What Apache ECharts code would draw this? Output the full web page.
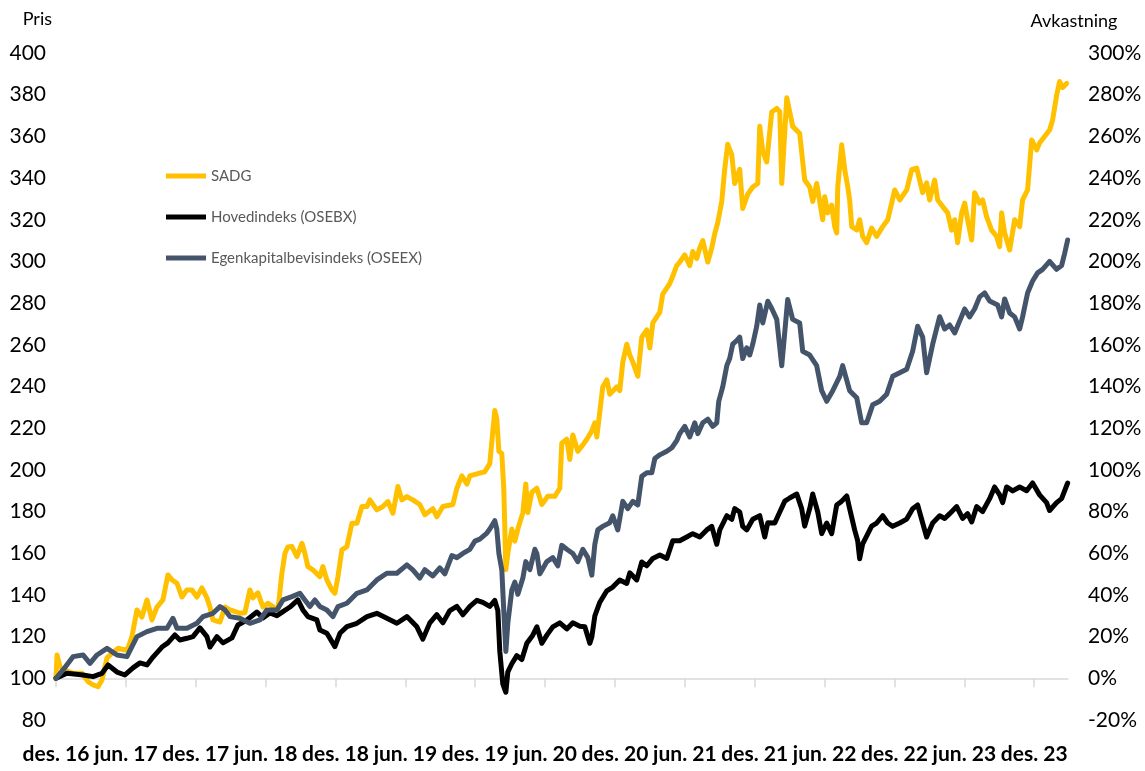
<!DOCTYPE html>
<html>
<head>
<meta charset="utf-8">
<script src="https://cdn.jsdelivr.net/npm/echarts@6/dist/echarts.min.js"></script>
<style>
  html, body { margin: 0; padding: 0; background: #fff; }
  #chart { width: 1145px; height: 771px; }
</style>
</head>
<body>
<div id="chart"></div>
<script>
// Time runs in months counted from end of December 2016.
const tickMonths = [0, 6, 12, 18, 24, 30, 36, 42, 48, 54, 60, 66, 72, 78, 84];
const tickLabels = ['des. 16', 'jun. 17', 'des. 17', 'jun. 18', 'des. 18', 'jun. 19', 'des. 19',
  'jun. 20', 'des. 20', 'jun. 21', 'des. 21', 'jun. 22', 'des. 22', 'jun. 23', 'des. 23'];

const seriesNames = ['SADG', 'Hovedindeks (OSEBX)', 'Egenkapitalbevisindeks (OSEEX)'];

// [month, indexed price] — all series rebased to 100 at the start
const sadg = [
[0,100],[0.09,111.2],[0.34,105.6],[0.77,104],[1.46,102.4],[2.23,102.4],[2.75,98.4],[3.18,96.8],[3.61,96],[3.95,99.2],
[4.38,109.8],[4.81,112],[5.32,114.4],[5.92,113.6],[6.18,114.4],[6.52,120],[6.95,132.8],[7.38,129.4],[7.81,137.6],[8.24,128],
[8.67,134.2],[9.18,137.6],[9.61,149.6],[9.96,147.2],[10.39,145.6],[10.82,139],[11.24,142.4],[11.67,142.4],[12.10,139],[12.53,143.4],
[12.96,138.6],[13.22,134.2],[13.48,128],[14.08,127],[14.51,134.2],[14.94,132.8],[15.54,131.8],[15.79,131.2],[16.22,131.5],[16.65,142.4],
[16.91,138.6],[17.34,141],[17.77,134.2],[18.20,136],[18.63,134.4],[19.06,132.8],[19.40,150.5],[19.66,160],[19.91,163],[20.26,163.2],
[20.69,158.4],[21.12,164.8],[21.37,160],[21.63,153.6],[22.06,152],[22.66,148.8],[22.92,153.6],[23.26,147.2],[23.69,142.4],[23.95,140.8],
[24.21,148.8],[24.55,161.6],[24.98,163.2],[25.41,174.4],[25.84,174.4],[26.27,182.4],[26.70,182.4],[26.95,185.6],[27.55,180.8],[28.07,182.4],
[28.50,184.8],[28.93,179.2],[29.36,192],[29.70,185.6],[30.13,187.2],[30.64,185.6],[31.24,183.4],[31.67,178.5],[32.36,181.4],[32.70,177.5],
[33.22,182.4],[34.08,183.4],[34.42,191.2],[34.85,197.1],[35.28,193.2],[35.54,197.1],[36.14,198.1],[36.82,199.1],[37.25,203],[37.51,218.7],
[37.68,228.5],[37.85,224.5],[38.03,208.9],[38.28,207.9],[38.45,191.2],[38.63,152.1],[38.80,159.9],[39.14,171.6],[39.40,165.8],[39.66,171.6],
[40.09,179.5],[40.34,193.2],[40.52,179.5],[40.86,189.3],[41.29,191.2],[41.72,183.4],[42.23,187.3],[42.83,187.3],[43.26,191.2],[43.43,212.8],
[43.86,214.7],[44.12,205],[44.38,216.7],[44.81,208.9],[45.24,212],[45.58,214.7],[46.01,218.7],[46.27,222.6],[46.44,215.8],[46.95,239.8],
[47.30,243.2],[47.55,236.3],[48.15,239.8],[48.41,238],[48.67,251.7],[49.01,260.3],[49.27,255.1],[49.53,251.7],[49.96,244.9],[50.30,263.7],
[50.73,267.1],[50.99,258.5],[51.25,270.5],[51.85,275.7],[52.10,284.3],[52.70,289.4],[52.96,292.9],[53.30,298],[53.56,299.7],[53.99,303.1],
[54.42,298],[54.68,304.8],[55.02,301.4],[55.28,306.5],[55.54,310],[55.97,299.7],[56.31,306.5],[56.57,313.4],[56.82,318.5],[57.17,328.8],
[57.42,344.2],[57.68,356.2],[58.03,351.1],[58.28,337.4],[58.71,344.2],[58.97,325.4],[59.40,332.3],[59.83,335.7],[60.26,337.4],[60.43,364.8],
[60.69,352.8],[61.03,347.7],[61.46,371.7],[61.89,373.4],[62.15,371.8],[62.32,337.4],[62.75,378.5],[63.26,364.8],[63.86,361.4],[64.29,339.1],
[64.72,335.7],[64.98,328.8],[65.32,337.4],[65.84,320],[66.01,331],[66.27,323.3],[66.61,327],[66.87,316.7],[67.04,313.7],[67.13,336],
[67.47,356],[67.73,344],[67.98,336],[68.15,329.5],[68.33,316.7],[68.76,315.1],[69.01,320],[69.27,312],[69.61,309],[70.04,316],
[70.47,312],[70.99,316.7],[71.42,320],[71.76,328],[72.02,334.3],[72.45,329.5],[73.05,334.3],[73.48,344],[73.91,344.8],[74.16,339],
[74.42,333],[74.76,337.7],[75.02,329.5],[75.45,339],[75.71,329.5],[76.14,326.3],[76.57,323.3],[76.91,315],[77.17,320],[77.42,309],
[77.77,323.3],[78.03,328],[78.28,320],[78.63,310.3],[78.88,333],[79.31,328],[79.57,329.5],[79.91,321.5],[80.34,315],[80.77,312],
[81.03,307.1],[81.20,323.3],[81.46,313.7],[81.89,305.5],[82.32,320],[82.75,316.7],[83.00,329.5],[83.43,334.3],[83.78,358.3],[84.21,353.5],
[84.46,356.8],[84.89,359.9],[85.32,363.1],[85.58,367.9],[85.92,379.6],[86.18,386.3],[86.44,383.4],[86.78,385.4]
];

const osebx = [
[0,100],[0.94,102.4],[2.32,101.6],[3.18,100.8],[3.95,102.4],[4.47,106.4],[5.24,103],[5.92,101.6],[6.61,105],[7.21,107.4],
[7.81,106.4],[8.33,110.2],[9.10,115],[9.61,117],[10.21,120.8],[10.64,118.4],[11.24,119.2],[11.76,120],[12.36,124.2],[12.96,120],
[13.22,115],[13.82,120],[14.34,117],[15.11,119.4],[15.62,125.6],[16.39,128],[17.25,131.8],[17.77,129],[18.37,131.4],[18.97,130],
[19.49,132],[20.09,134.2],[20.77,137.6],[21.20,132.8],[21.63,129.6],[22.40,128],[22.66,123.2],[23.26,121.6],[23.95,115.2],[24.38,121.6],
[24.98,124.8],[25.84,126.4],[26.70,129.6],[27.55,131.2],[28.41,128.8],[29.27,126.4],[30.13,129.6],[30.99,124.7],[31.50,118.8],[32.10,126.6],
[32.70,130.5],[33.22,126.6],[33.82,132.5],[34.42,134.5],[34.94,130.5],[35.54,134.5],[36.14,137.4],[36.65,136.4],[37.25,134.5],[37.68,137.4],
[37.94,132.5],[38.11,112.9],[38.37,97.2],[38.63,93.3],[38.80,103.1],[39.14,107],[39.57,110.9],[40.00,109],[40.43,116.8],[40.94,120.7],
[41.29,124.7],[41.72,116.8],[42.15,120.7],[42.66,124.7],[43.26,126.6],[43.86,123.7],[44.38,126.6],[44.98,125],[45.41,124.7],[45.84,116.8],
[46.01,119.8],[46.27,130],[46.70,136.5],[47.30,142],[47.81,143.8],[48.41,147.2],[49.01,145.5],[49.27,150.6],[49.87,147.2],[50.30,155.8],
[50.73,154],[51.25,157.5],[51.85,159.2],[52.45,157.5],[52.96,166],[53.56,166],[54.16,167.8],[54.68,169.4],[55.28,167.8],[55.88,171.2],
[56.31,172.9],[56.74,164.3],[57.00,171.2],[57.60,178],[58.03,176.3],[58.28,181.4],[58.71,179.8],[58.97,172.9],[59.31,171.2],[59.83,176.3],
[60.43,178],[60.86,167.8],[61.12,174.6],[61.72,174.5],[62.15,179.8],[62.58,185],[63.00,186.5],[63.61,188.4],[64.03,181.4],[64.29,173],
[64.72,181.4],[64.98,188.4],[65.41,179.8],[65.75,169.4],[66.18,174.5],[66.61,169.4],[67.04,183.2],[67.47,185],[67.90,187.5],[68.15,181.4],
[68.58,171.2],[68.84,166],[69.01,157.4],[69.27,164.5],[70.04,173],[70.47,174.5],[70.99,178],[71.42,174.5],[71.85,172.9],[72.45,174.5],
[73.05,176.4],[73.56,181.4],[73.99,183.2],[74.42,174.5],[74.76,167.8],[75.28,174.5],[75.88,178],[76.31,176.7],[76.74,179],[77.34,182.4],
[77.85,176.7],[78.28,179],[78.63,175],[79.06,182.4],[79.57,180],[80.17,186.2],[80.60,191.8],[81.03,188],[81.29,184.3],[81.63,191.8],
[82.15,189.9],[82.75,191.8],[83.35,190],[83.86,193.7],[84.46,188],[85.06,184.3],[85.32,180.5],[85.92,184.3],[86.35,186.2],[86.87,193.7]
];

const oseex = [
[0,100],[0.60,104],[1.46,110.4],[2.32,111.2],[2.92,107.2],[3.52,111.2],[4.38,114.4],[5.24,111.2],[6.09,110.4],[6.95,120],
[7.81,122.4],[8.67,124],[9.53,124],[10.04,128.8],[10.39,124],[11.24,124],[12.10,126.4],[12.62,129.6],[13.48,131.2],[14.08,134.4],
[14.51,132.8],[14.94,129.6],[15.79,128.8],[16.65,126.4],[17.51,128],[18.11,132.8],[18.97,132.8],[19.49,137.6],[20.26,139.2],[20.94,140.8],
[21.37,137.6],[21.80,134.4],[22.23,137.6],[22.66,134.4],[23.26,132.8],[23.78,129.6],[24.21,134.4],[24.98,136],[25.84,140.8],[26.70,142.4],
[27.55,147.2],[28.41,150.4],[29.27,150.4],[30.13,154.4],[30.64,152],[31.24,148.1],[31.67,152.1],[32.36,149.1],[32.96,153],[33.39,150.1],
[33.99,158.9],[34.42,157.9],[34.94,159.9],[35.54,161.9],[35.97,165.8],[36.39,166.8],[37.00,169.7],[37.25,171.6],[37.68,175.6],[37.85,171.6],
[38.03,159.9],[38.28,152.1],[38.45,132.5],[38.63,112.9],[38.80,126.6],[39.14,142.3],[39.40,146.2],[39.66,140.3],[40.09,148.1],[40.34,156],
[40.69,152.1],[41.12,161.9],[41.29,159.9],[41.55,150.1],[42.15,156],[42.66,157.9],[43.09,154],[43.43,163.8],[43.86,161.9],[44.38,159.9],
[44.81,156],[45.24,161.9],[45.67,157.9],[46.01,149.5],[46.27,164.3],[46.52,171.2],[46.95,172.9],[47.55,174.6],[47.81,178],[48.24,171.2],
[48.67,184.9],[49.10,181.4],[49.53,184.9],[49.96,183.2],[50.30,196.9],[50.73,198.6],[51.16,198.6],[51.42,205.4],[51.85,207.2],[52.45,208.9],
[52.88,210.6],[53.30,214],[53.56,217.4],[53.99,220.9],[54.42,215.8],[54.85,222.6],[55.11,217.4],[55.54,222.6],[55.97,224.3],[56.39,220.9],
[56.74,222.6],[56.91,232.9],[57.25,239.8],[57.60,250],[57.85,253.4],[58.11,260.3],[58.45,262],[58.71,263.7],[58.97,253.4],[59.31,258.5],
[59.57,255.1],[59.83,260.3],[60.17,268.9],[60.43,279.1],[60.69,270.5],[61.12,280.9],[61.46,277.4],[61.89,272.2],[62.32,250],[62.83,281.7],
[63.26,272.2],[63.86,270.5],[64.12,256.9],[64.72,255.1],[65.32,250],[65.75,238],[66.18,232.9],[66.70,238],[67.30,244.9],[67.55,250],
[68.15,238],[68.76,234.6],[69.18,222.6],[69.61,222.6],[70.13,231.2],[70.73,232.9],[71.33,236.3],[71.85,244.9],[72.45,246.6],[73.05,248.3],
[73.56,256.9],[73.99,268.9],[74.42,263.7],[74.76,246.6],[75.28,260.3],[75.88,273.5],[76.31,267.6],[76.74,269.5],[77.17,265.7],[77.60,271.5],
[78.03,277.2],[78.45,273.4],[78.88,277.2],[79.31,283],[79.74,284.9],[80.17,281],[80.86,279.1],[81.20,273.4],[81.46,282],[81.89,275.3],
[82.32,273.4],[82.75,267.6],[83.00,273.4],[83.43,284.9],[83.86,290.6],[84.29,294.5],[84.72,296.2],[85.32,300],[85.92,296.2],[86.35,298],
[86.61,303.8],[86.87,310.3]
];

const FONT = 'Lato, "Liberation Sans", sans-serif';
const colors = ['#FFC000', '#000000', '#44546A'];

const chart = echarts.init(document.getElementById('chart'), null, { renderer: 'canvas' });

function lineSeries(name, data, color) {
  return {
    name: name,
    type: 'line',
    data: data,
    showSymbol: false,
    symbol: 'none',
    lineStyle: { color: color, width: 5, join: 'round', cap: 'round' },
    itemStyle: { color: color },
    animation: false
  };
}

chart.setOption({
  backgroundColor: '#ffffff',
  animation: false,
  textStyle: { fontFamily: FONT },
  grid: { left: 56, right: 77, top: 53, bottom: 51, containLabel: false },
  legend: {
    orient: 'vertical',
    left: 161,
    top: 161,
    itemWidth: 40,
    itemHeight: 5,
    itemGap: 21,
    icon: 'rect',
    data: seriesNames,
    textStyle: { fontFamily: FONT, fontSize: 15, color: '#595959', lineHeight: 20 }
  },
  xAxis: {
    type: 'value',
    min: 0,
    max: 86.9,
    splitLine: { show: false },
    axisLine: { show: true, lineStyle: { color: '#D9D9D9', width: 1.5 } },
    axisTick: { show: true, customValues: tickMonths, length: 9, lineStyle: { color: '#D9D9D9', width: 1.5 } },
    axisLabel: {
      customValues: tickMonths,
      showMinLabel: true,
      showMaxLabel: true,
      hideOverlap: false,
      formatter: function (v) {
        const i = tickMonths.indexOf(Math.round(v));
        return i >= 0 ? tickLabels[i] : '';
      },
      fontFamily: FONT,
      fontSize: 21,
      fontWeight: 'bold',
      color: '#000000',
      margin: 24
    }
  },
  yAxis: [
    {
      type: 'value',
      position: 'left',
      min: 80,
      max: 400,
      interval: 20,
      name: 'Pris',
      nameLocation: 'end',
      nameGap: 25,
      nameTextStyle: { fontFamily: FONT, fontSize: 18, color: '#000000', align: 'right', padding: [0, 4, 0, 0] },
      axisLine: { show: false },
      axisTick: { show: false },
      splitLine: { show: false },
      axisLabel: { fontFamily: FONT, fontSize: 21, color: '#000000', margin: 10 }
    },
    {
      type: 'value',
      position: 'right',
      min: -20,
      max: 300,
      interval: 20,
      name: 'Avkastning',
      nameLocation: 'end',
      nameGap: 23,
      nameTextStyle: { fontFamily: FONT, fontSize: 18, color: '#000000', align: 'center', padding: [0, 0, 0, 12] },
      axisLine: { show: false },
      axisTick: { show: false },
      splitLine: { show: false },
      axisLabel: { fontFamily: FONT, fontSize: 21, color: '#000000', margin: 20, formatter: '{value}%' }
    }
  ],
  series: [
    lineSeries(seriesNames[0], sadg, colors[0]),
    lineSeries(seriesNames[1], osebx, colors[1]),
    lineSeries(seriesNames[2], oseex, colors[2])
  ]
});
</script>
</body>
</html>
